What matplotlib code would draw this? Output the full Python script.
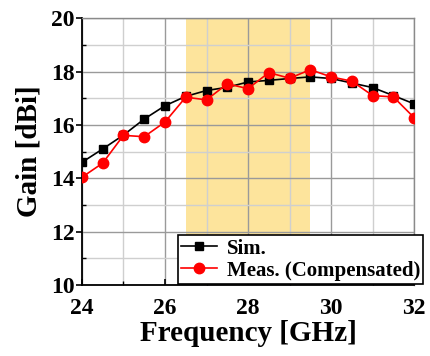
import matplotlib
matplotlib.use("Agg")
import matplotlib.pyplot as plt
from matplotlib.ticker import MultipleLocator

freq = [24, 24.5, 25, 25.5, 26, 26.5, 27, 27.5, 28, 28.5, 29, 29.5, 30, 30.5, 31, 31.5, 32]
gain_sim = [14.6, 15.1, 15.62, 16.22, 16.72, 17.07, 17.29, 17.41, 17.61, 17.67, 17.74, 17.8,
            17.74, 17.57, 17.4, 17.1, 16.79]
gain_meas = [14.04, 14.57, 15.61, 15.56, 16.11, 17.04, 16.94, 17.54, 17.36, 17.96, 17.75, 18.07,
             17.8, 17.64, 17.1, 17.05, 16.27]
band = (26.5, 29.5)

plt.rcParams['font.family'] = ['Liberation Serif', 'DejaVu Serif']
plt.rcParams['font.weight'] = 'bold'

fig = plt.figure(figsize=(4.31, 3.56), dpi=100)
ax = fig.add_axes([0.190, 0.199, 0.771, 0.750])

ax.axvspan(band[0], band[1], color='#fde49c', zorder=0, lw=0)

ax.plot(freq, gain_sim, color='black', marker='s', markersize=6, lw=1.2, label='Sim.', zorder=3)
ax.plot(freq, gain_meas, color='red', marker='o', markersize=7.5, lw=1.2,
        label='Meas. (Compensated)', zorder=4)

ax.set_xlim(24, 32)
ax.set_ylim(10, 20)
ax.xaxis.set_major_locator(MultipleLocator(2))
ax.xaxis.set_minor_locator(MultipleLocator(1))
ax.yaxis.set_major_locator(MultipleLocator(2))
ax.yaxis.set_minor_locator(MultipleLocator(1))

ax.grid(which='major', color='#9a9a9a', lw=1.0, zorder=1)
ax.grid(which='minor', color='#cfcfcf', lw=1.0, zorder=1)
ax.set_axisbelow(True)

ax.tick_params(axis='x', which='both', direction='in', labelsize=17, pad=9)
ax.tick_params(axis='y', which='major', direction='out', labelsize=17, pad=1)
ax.tick_params(axis='y', which='minor', direction='in')
ax.tick_params(which='major', length=4, width=1.2)
ax.tick_params(which='minor', length=3, width=1.0)

for s in ['left', 'bottom']:
    ax.spines[s].set_color('black')
    ax.spines[s].set_linewidth(1.3)
for s in ['top', 'right']:
    ax.spines[s].set_color('#8a8a8a')
    ax.spines[s].set_linewidth(1.0)

for lbl in ax.get_xticklabels() + ax.get_yticklabels():
    lbl.set_fontweight('bold')

ax.set_xlabel('Frequency [GHz]', fontsize=21, fontweight='bold', labelpad=1)
ax.set_ylabel('Gain [dBi]', fontsize=21, fontweight='bold', labelpad=6)

leg = ax.legend(loc='lower right', bbox_to_anchor=(0.982, 0.203), bbox_transform=fig.transFigure,
                frameon=True, fancybox=False, edgecolor='black', framealpha=1,
                prop={'weight': 'bold', 'size': 15}, borderpad=0.15, labelspacing=0.1,
                handlelength=1.75, handletextpad=0.45, borderaxespad=0)
leg.get_frame().set_linewidth(1.2)
leg.set_zorder(10)

fig.savefig('out.png', dpi=100)
